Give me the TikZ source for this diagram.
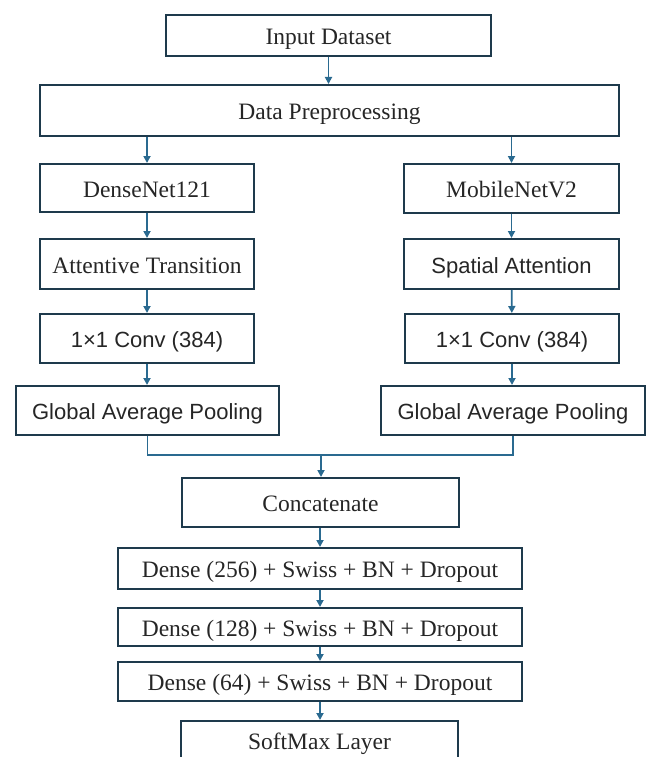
\documentclass[tikz,border=0pt]{standalone}
\usepackage{fontspec}
\setmainfont{Liberation Serif}
\setsansfont{Liberation Sans}
\usetikzlibrary{arrows.meta}
\definecolor{boxc}{HTML}{1E3A4C}
\definecolor{arrc}{HTML}{2A6A90}
\begin{document}
\begin{tikzpicture}[x=1pt,y=-1pt,
  blk/.style={draw=boxc,line width=2pt,fill=white,inner sep=0pt,align=center,text=black!85,text height=19pt,text depth=1pt},
  sf/.style={blk,font=\sffamily\fontsize{22}{26}\selectfont},
  rm/.style={blk,font=\fontsize{23.5}{28}\selectfont},
  con/.style={draw=arrc,line width=1.8pt},
  arr/.style={con,-{Triangle[length=7pt,width=7pt]}}]
\useasboundingbox (0,0) rectangle (647,757);
\node[rm,minimum width=325pt,minimum height=41pt] (inp) at (328.5,35.5) {Input Dataset};
\node[rm,minimum width=579pt,minimum height=51pt] (prep) at (329.5,110.5) {Data Preprocessing};
\node[rm,minimum width=214pt,minimum height=48pt] (dn) at (147,188) {DenseNet121};
\node[rm,minimum width=215pt,minimum height=49pt] (mn) at (511.5,188.5) {MobileNetV2};
\node[rm,minimum width=214pt,minimum height=50pt] (att) at (147,264) {Attentive Transition};
\node[sf,minimum width=215pt,minimum height=50pt] (sp) at (511.5,264) {Spatial Attention};
\node[sf,minimum width=214pt,minimum height=49pt] (c1) at (147,338.5) {1×1 Conv (384)};
\node[sf,minimum width=214pt,minimum height=49pt] (c2) at (512,338.5) {1×1 Conv (384)};
\node[sf,minimum width=263pt,minimum height=49pt] (gl) at (147.5,410.5) {Global Average Pooling};
\node[sf,minimum width=264pt,minimum height=49pt] (gr) at (513,410.5) {Global Average Pooling};
\node[rm,minimum width=277pt,minimum height=49pt] (cat) at (320.5,502.5) {Concatenate};
\node[rm,minimum width=404pt,minimum height=41pt] (d1) at (320,568.5) {Dense (256) + Swiss + BN + Dropout};
\node[rm,minimum width=404pt,minimum height=38pt] (d2) at (320,627) {Dense (128) + Swiss + BN + Dropout};
\node[rm,minimum width=404pt,minimum height=39pt] (d3) at (320,681.5) {Dense (64) + Swiss + BN + Dropout};
\node[rm,minimum width=277pt,minimum height=50pt,text depth=13pt,anchor=north] (sm) at (319.5,720) {SoftMax Layer};
\draw[arr] (inp.south) -- (inp.south |- prep.north);
\draw[arr] (prep.south -| dn.north) -- (dn.north);
\draw[arr] (prep.south -| mn.north) -- (mn.north);
\draw[arr] (dn) -- (att);
\draw[arr] (mn) -- (sp);
\draw[arr] (att) -- (c1);
\draw[arr] (sp) -- (c2);
\draw[arr] (c1.south) -- (c1.south |- gl.north);
\draw[arr] (c2.south) -- (c2.south |- gr.north);
\coordinate (mj) at (321,455);
\draw[con] (gl.south) |- (mj) -| (gr.south);
\draw[arr] (mj) -- (mj |- cat.north);
\draw[arr] (cat.south -| d1.north) -- (d1.north);
\draw[arr] (d1) -- (d2);
\draw[arr] (d2) -- (d3);
\draw[arr] (d3.south) -- (d3.south |- sm.north);
\end{tikzpicture}
\end{document}
